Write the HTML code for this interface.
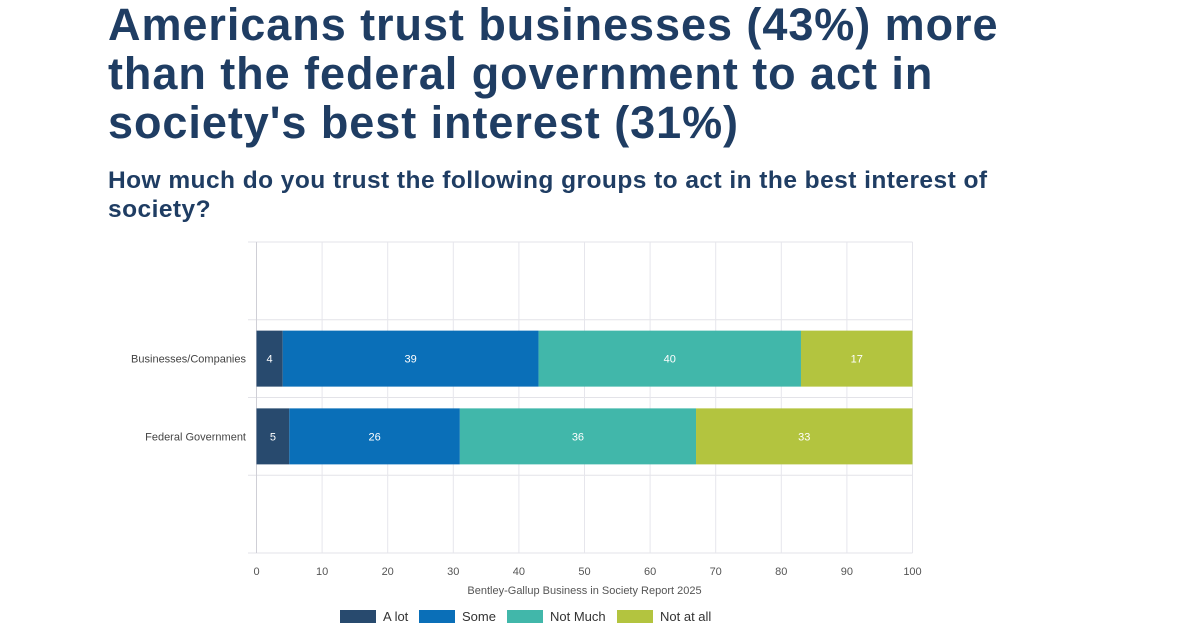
<!DOCTYPE html>
<html><head><meta charset="utf-8"><style>
body{margin:0;width:1200px;height:630px;background:#fff;overflow:hidden;font-family:"Liberation Sans",sans-serif;}
h1{position:absolute;left:108px;top:0px;margin:0;font-size:45px;line-height:49px;color:#1f3d63;font-weight:bold;width:905px;letter-spacing:0.95px}
h2{position:absolute;left:108px;top:166px;margin:0;font-size:24.5px;line-height:29px;color:#1f3d63;font-weight:bold;width:900px;letter-spacing:0.45px}
</style></head><body>
<h1>Americans trust businesses (43%) more than the federal government to act in society's best interest (31%)</h1>
<h2>How much do you trust the following groups to act in the best interest of society?</h2>
<svg id="c" width="1200" height="630" style="position:absolute;left:0;top:0"></svg>
<script>
const categories=["Businesses/Companies","Federal Government"];
const seriesNames=["A lot","Some","Not Much","Not at all"];
const aLot=[4,5];
const some=[39,26];
const notMuch=[40,36];
const notAtAll=[17,33];
const ticks=[0,10,20,30,40,50,60,70,80,90,100];
const colors=["#284a6e","#0a6fb8","#41b7aa","#b3c43f"];
const NS="http://www.w3.org/2000/svg",svg=document.getElementById('c');
const x0=256.5,x1=912.5,yTop=242,yBot=553;
const xs=v=>x0+(v/100)*(x1-x0);
const band=(yBot-yTop)/4;
function el(t,a,p){const e=document.createElementNS(NS,t);for(const k in a)e.setAttribute(k,a[k]);(p||svg).appendChild(e);return e;}
for(let i=0;i<=4;i++){const y=yTop+i*band;
const g=el('line',{x1:248,x2:x1,y1:y,y2:y,stroke:'#e3e3e8','stroke-width':1});

}
ticks.forEach(t=>{const x=xs(t);
const g=el('line',{x1:x,x2:x,y1:yTop,y2:yBot,stroke:t===0?'#cfcfd6':'#e6e6ec','stroke-width':1});


const tx=el('text',{x:x,y:575,'text-anchor':'middle','font-size':11,fill:'#555'});tx.textContent=t;

});
const series=[aLot,some,notMuch,notAtAll];
categories.forEach((c,i)=>{const yc=yTop+band*(i+1.5);const h=56;
const lb=el('text',{x:246,y:yc+4,'text-anchor':'end','font-size':11,fill:'#444'});lb.textContent=c;


let acc=0;series.forEach((s,j)=>{const v=s[i];
const r=el('rect',{x:xs(acc),y:yc-h/2,width:xs(acc+v)-xs(acc),height:h,fill:colors[j]});


const t=el('text',{x:(xs(acc)+xs(acc+v))/2,y:yc+4,'text-anchor':'middle','font-size':11,fill:'#fff'});t.textContent=v;


acc+=v;});});
const xt=el('text',{x:(x0+x1)/2,y:594,'text-anchor':'middle','font-size':11,fill:'#555'});xt.textContent="Bentley-Gallup Business in Society Report 2025";


const lx=[340,419,507,617];
seriesNames.forEach((n,j)=>{
const r=el('rect',{x:lx[j],y:610,width:36,height:13,fill:colors[j]});


const t=el('text',{x:lx[j]+43,y:621,'font-size':13,fill:'#333'});t.textContent=n;

});
</script>
</body></html>
